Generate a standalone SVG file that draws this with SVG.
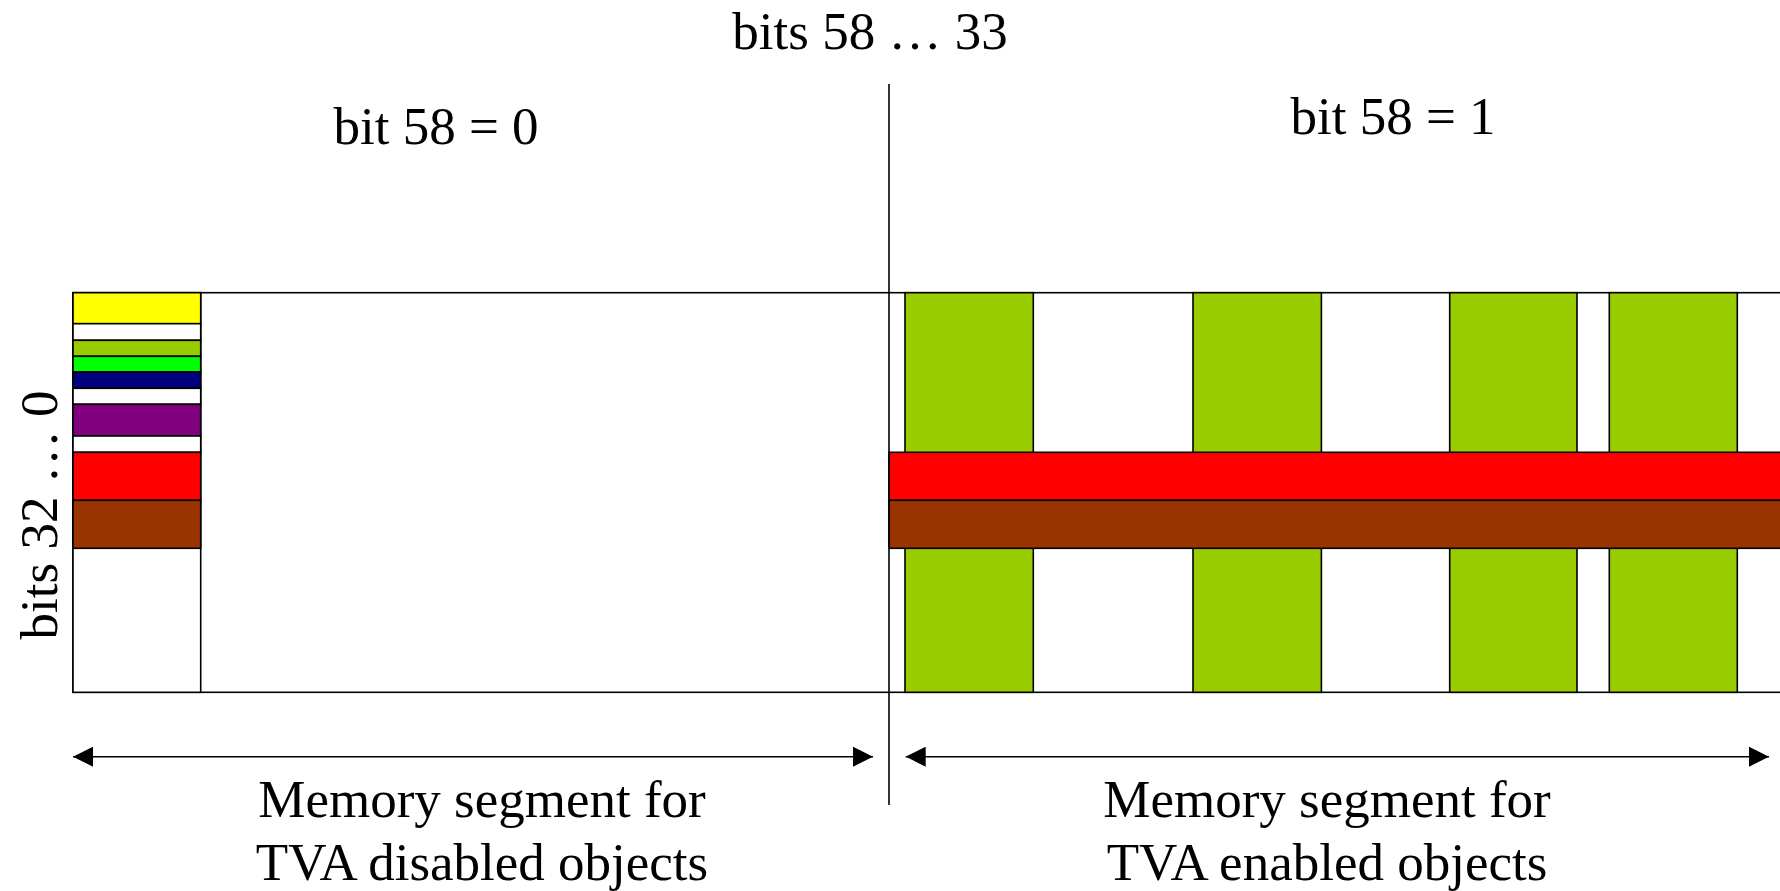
<svg xmlns="http://www.w3.org/2000/svg" width="1780" height="891" viewBox="0 0 1780 891">
  <style>
    .lbl { font-family: "Liberation Serif", "Times New Roman", serif; font-size: 53px; fill: #000; }
    .mid { text-anchor: middle; }
    .box { stroke: #000; stroke-width: 1.6; }
    .line { stroke: #000; stroke-width: 1.6; fill: none; }
  </style>
  <defs>
    <marker id="ah" viewBox="0 0 20 20" refX="20" refY="10" markerWidth="20" markerHeight="20" markerUnits="userSpaceOnUse" orient="auto-start-reverse">
      <path d="M0,0 L20,10 L0,20 Z" fill="#000"/>
    </marker>
  </defs>
  <rect width="1780" height="891" fill="#fff"/>

  <!-- address space frame -->
  <g id="frame">
    <rect class="box" x="73" y="292.7" width="1720" height="399.6" fill="#fff"/>
  </g>

  <!-- TVA enabled segment: object columns -->
  <g id="enabled-objects">
    <rect class="box" x="905" y="292.7" width="128.3" height="399.6" fill="#99CC00"/>
    <rect class="box" x="1193" y="292.7" width="128.4" height="399.6" fill="#99CC00"/>
    <rect class="box" x="1449.7" y="292.7" width="127.3" height="399.6" fill="#99CC00"/>
    <rect class="box" x="1609.3" y="292.7" width="128" height="399.6" fill="#99CC00"/>
  </g>

  <!-- shared bands across the enabled segment -->
  <g id="enabled-bands">
    <rect class="box" x="889" y="452.3" width="900" height="48" fill="#FF0000"/>
    <rect class="box" x="889" y="500.3" width="900" height="48" fill="#993300"/>
  </g>

  <!-- TVA disabled segment: stacked objects -->
  <g id="disabled-objects">
    <rect class="box" x="73" y="292.7" width="127.7" height="399.6" fill="#fff" stroke-width="2"/>
    <rect class="box" x="73" y="292.7" width="127.7" height="31" fill="#FFFF00"/>
    <rect class="box" x="73" y="323.7" width="127.7" height="16.6" fill="#fff"/>
    <rect class="box" x="73" y="340.3" width="127.7" height="16" fill="#99CC00"/>
    <rect class="box" x="73" y="356.3" width="127.7" height="15.7" fill="#00FF00"/>
    <rect class="box" x="73" y="372" width="127.7" height="16.3" fill="#000080"/>
    <rect class="box" x="73" y="388.3" width="127.7" height="16" fill="#fff"/>
    <rect class="box" x="73" y="404.3" width="127.7" height="31.7" fill="#800080"/>
    <rect class="box" x="73" y="436" width="127.7" height="16.3" fill="#fff"/>
    <rect class="box" x="73" y="452.3" width="127.7" height="48" fill="#FF0000"/>
    <rect class="box" x="73" y="500.3" width="127.7" height="48" fill="#993300"/>
  </g>

  <!-- divider and extent arrows -->
  <g id="connectors">
    <line class="line" x1="889" y1="84" x2="889" y2="805"/>
    <line class="line" x1="73" y1="756.7" x2="873" y2="756.7" marker-start="url(#ah)" marker-end="url(#ah)"/>
    <line class="line" x1="905.7" y1="756.7" x2="1769" y2="756.7" marker-start="url(#ah)" marker-end="url(#ah)"/>
  </g>

  <!-- labels -->
  <g id="labels">
    <text class="lbl mid" x="870" y="49">bits 58 … 33</text>
    <text class="lbl mid" x="436" y="144">bit 58 = 0</text>
    <text class="lbl mid" x="1393" y="134">bit 58 = 1</text>
    <text class="lbl mid" transform="translate(57,515) rotate(-90)" font-size="55">bits 32 … 0</text>
    <text class="lbl mid" x="482" y="817">Memory segment for</text>
    <text class="lbl mid" x="482" y="880">TVA disabled objects</text>
    <text class="lbl mid" x="1327" y="817">Memory segment for</text>
    <text class="lbl mid" x="1327" y="880">TVA enabled objects</text>
  </g>
</svg>
